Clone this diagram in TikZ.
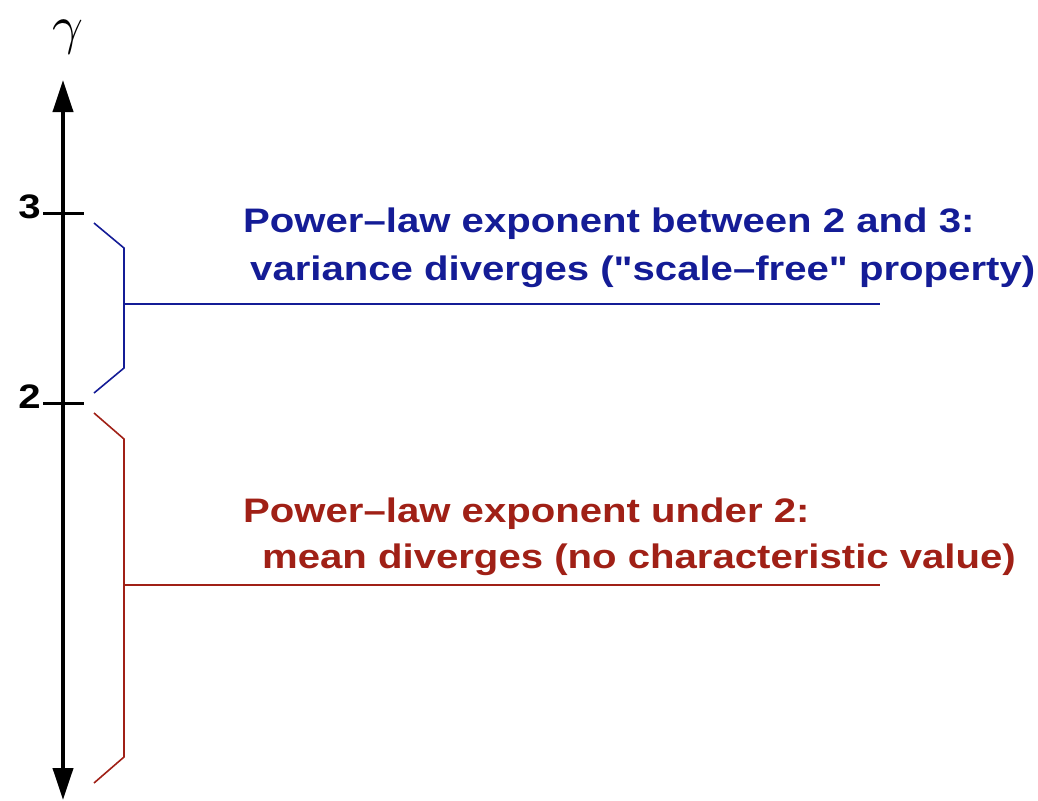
\documentclass[tikz,border=0pt]{standalone}
\usepackage{fontspec}
\usepackage{graphicx}
\setmainfont{Liberation Sans}
\newfontfamily\widesans[FakeStretch=1.18]{Liberation Sans}
\usetikzlibrary{arrows.meta}
\definecolor{regblue}{RGB}{20,28,150}
\definecolor{regred}{RGB}{160,32,22}
\newcommand{\dq}{\symbol{34}}
\begin{document}
\begin{tikzpicture}[x=1pt,y=-1pt,
  axis/.style={line width=4pt,-{Triangle[length=32pt,width=20pt]}},
  tick/.style={line width=3pt},
  ticklabel/.style={font=\widesans\fontsize{34}{40}\selectfont\bfseries,anchor=base east,inner sep=0pt},
  brace/.style={line width=1.6pt},
  note/.style={font=\widesans\fontsize{34}{40}\selectfont\bfseries,anchor=base west,inner sep=0pt}]
  \useasboundingbox (0,0) rectangle (1038,800);
  % vertical gamma axis, pointing both ways
  \coordinate (axtop) at (63,80);
  \coordinate (axbot) at (63,800);
  \coordinate (axmid) at (63,400);
  \draw[axis] (axmid) -- (axtop);
  \draw[axis] (axmid) -- (axbot);
  \node[inner sep=0pt] (gamma) at (68,37) {\scalebox{5.4}{$\gamma$}};
  % ticks at 3 and 2
  \coordinate (t3l) at (43,213); \coordinate (t3r) at (84,213);
  \coordinate (t2l) at (43,403); \coordinate (t2r) at (84,403);
  \draw[tick] (t3l) -- (t3r);
  \draw[tick] (t2l) -- (t2r);
  \node[ticklabel] (l3) at (41,218) {3};
  \node[ticklabel] (l2) at (41,408) {2};
  % range 2..3
  \coordinate (b1) at (94,223); \coordinate (b2) at (124,248);
  \coordinate (b3) at (124,368); \coordinate (b4) at (94,393);
  \coordinate (bm) at (124,304); \coordinate (be) at (880,304);
  \draw[brace,regblue] (b1) -- (b2) -- (b3) -- (b4);
  \draw[brace,regblue] (bm) -- (be);
  \node[note,text=regblue] (bt1) at (243,232) {Power–law exponent between 2 and 3:};
  \node[note,text=regblue] (bt2) at (250,280) {variance diverges (\dq scale–free\dq{} property)};
  % range below 2
  \coordinate (r1) at (94,413); \coordinate (r2) at (124,439);
  \coordinate (r3) at (124,757); \coordinate (r4) at (94,783);
  \coordinate (rm) at (124,585); \coordinate (re) at (880,585);
  \draw[brace,regred] (r1) -- (r2) -- (r3) -- (r4);
  \draw[brace,regred] (rm) -- (re);
  \node[note,text=regred] (rt1) at (243,522) {Power–law exponent under 2:};
  \node[note,text=regred] (rt2) at (262,568) {mean diverges (no characteristic value)};
\end{tikzpicture}
\end{document}
